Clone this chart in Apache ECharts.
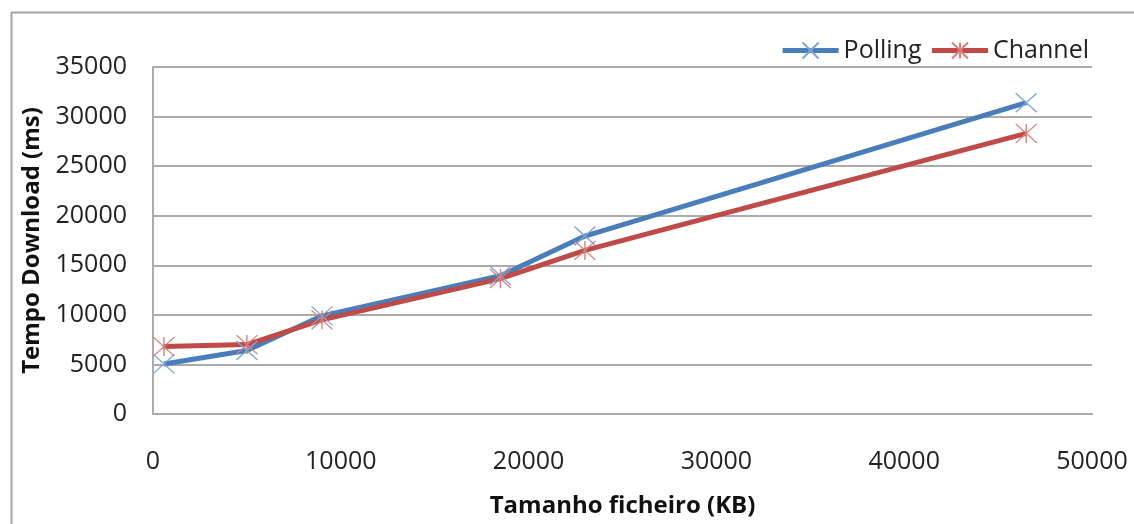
<!DOCTYPE html>
<html>
<head>
<meta charset="utf-8">
<script src="https://cdn.jsdelivr.net/npm/echarts@6/dist/echarts.min.js"></script>
<style>
html,body{margin:0;padding:0;background:#fff;}
#c{width:1134px;height:524px;}
</style>
</head>
<body>
<div id="c"></div>
<script>
const fileSizesKB = [580, 5000, 9000, 18500, 23000, 46500];
const pollingMs = [5050, 6400, 9900, 13950, 17950, 31400];
const channelMs = [6800, 7000, 9500, 13650, 16500, 28300];
const xTicks = [0, 10000, 20000, 30000, 40000, 50000];
const yTicks = [0, 5000, 10000, 15000, 20000, 25000, 30000, 35000];

const FONT = '"Open Sans", "Liberation Sans", sans-serif';
const crossPath = 'path://M0,0L10,9M10,0L0,9';
const starPath = 'path://M0,0L10,9M10,0L0,9M5,0L5,9';

const chart = echarts.init(document.getElementById('c'), null, {renderer: 'canvas'});
chart.setOption({
  animation: false,
  backgroundColor: '#ffffff',
  textStyle: {fontFamily: FONT},
  graphic: [{
    type: 'rect', left: 9, top: 10, z: -1,
    shape: {width: 1300, height: 700},
    style: {fill: 'none', stroke: '#a6a6a6', lineWidth: 2}
  }],
  legend: {
    top: 33, right: 40,
    itemWidth: 56, itemHeight: 20, itemGap: 8,
    lineStyle: {width: 5},
    textStyle: {fontFamily: FONT, fontSize: 25, color: '#222'},
    data: ['Polling', 'Channel']
  },
  grid: {left: 153, right: 42, top: 67, bottom: 110, containLabel: false},
  xAxis: {
    type: 'value', min: xTicks[0], max: xTicks[xTicks.length - 1], interval: 10000,
    name: 'Tamanho ficheiro (KB)', nameLocation: 'middle', nameGap: 80,
    nameTextStyle: {fontFamily: FONT, fontSize: 24, fontWeight: 'bold', color: '#111'},
    axisLine: {show: true, lineStyle: {color: '#ababab', width: 2}},
    axisTick: {show: false},
    splitLine: {show: false},
    axisLabel: {fontFamily: FONT, fontSize: 25, color: '#222', margin: 35,
      formatter: v => String(v)}
  },
  yAxis: {
    type: 'value', min: yTicks[0], max: yTicks[yTicks.length - 1], interval: 5000,
    name: 'Tempo Download (ms)', nameLocation: 'middle', nameGap: 108, nameRotate: 90,
    nameTextStyle: {fontFamily: FONT, fontSize: 24, fontWeight: 'bold', color: '#111'},
    axisLine: {show: true, lineStyle: {color: '#ababab', width: 2}},
    axisTick: {show: false},
    splitLine: {show: true, lineStyle: {color: '#ababab', width: 2}},
    axisLabel: {fontFamily: FONT, fontSize: 25, color: '#222', margin: 26,
      formatter: v => String(v)}
  },
  series: [
    {
      name: 'Polling', type: 'line',
      data: fileSizesKB.map((x, i) => [x, pollingMs[i]]),
      symbol: crossPath, symbolSize: [21, 19],
      lineStyle: {color: '#4a7ebb', width: 5},
      itemStyle: {color: 'rgba(0,0,0,0)', borderColor: '#7fa5d6', borderWidth: 1.3},
      emphasis: {disabled: true}
    },
    {
      name: 'Channel', type: 'line',
      data: fileSizesKB.map((x, i) => [x, channelMs[i]]),
      symbol: starPath, symbolSize: [21, 19],
      lineStyle: {color: '#be4b48', width: 5},
      itemStyle: {color: 'rgba(0,0,0,0)', borderColor: '#d77f7c', borderWidth: 1.3},
      emphasis: {disabled: true}
    }
  ]
});
</script>
</body>
</html>
